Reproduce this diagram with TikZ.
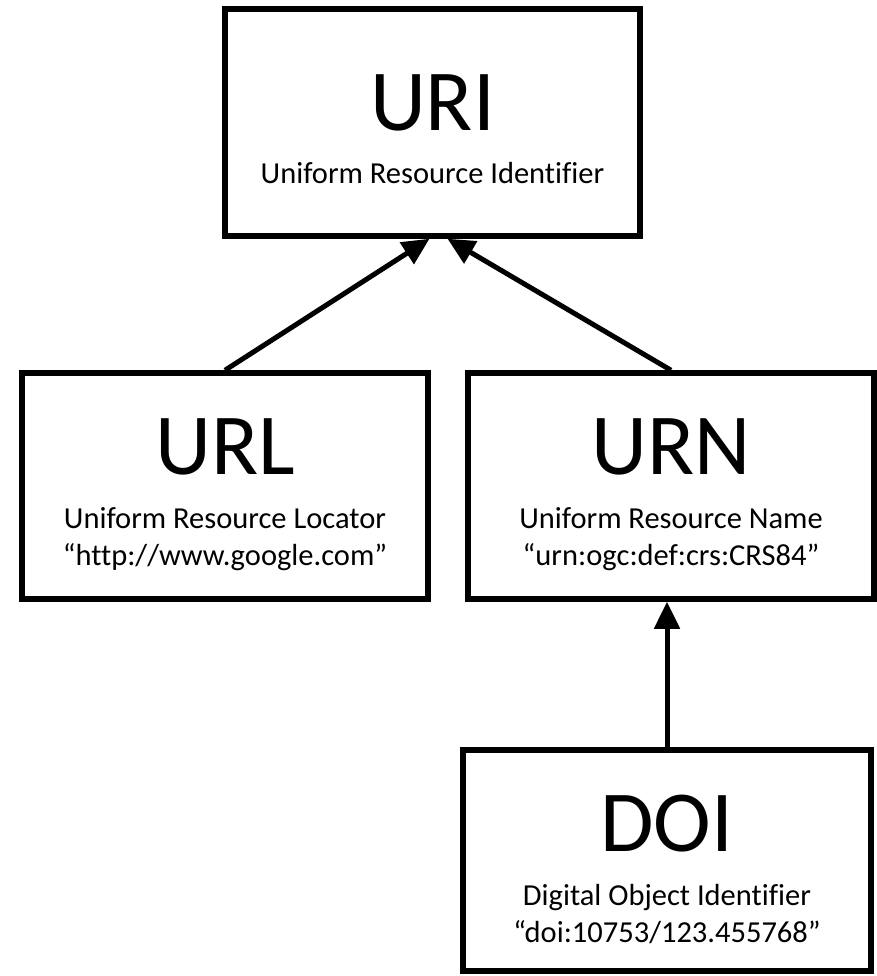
\documentclass[tikz,border=0pt]{standalone}
\usepackage{fontspec}
\setmainfont{Carlito}[Ligatures={NoCommon}]
\usetikzlibrary{arrows.meta}

\tikzset{
  box/.style={draw=black, line width=5.5pt, fill=white, rectangle, inner sep=0pt},
  title/.style={anchor=base, inner sep=0pt, font=\fontsize{87}{105}\selectfont},
  sub/.style={anchor=base, inner sep=0pt, font=\fontsize{30.5}{37}\selectfont},
  link/.style={line width=5pt, -{Triangle[length=27pt, width=25pt]}}
}

\begin{document}
\begin{tikzpicture}[x=1pt, y=-1pt]
  \useasboundingbox (0,0) rectangle (877,976);

  % boxes (centres in picture units, y downwards)
  \node[box, minimum width=415pt, minimum height=227pt] (uri) at (432.5,122.5) {};
  \node[box, minimum width=406pt, minimum height=226pt] (url) at (225,486) {};
  \node[box, minimum width=406pt, minimum height=226pt] (urn) at (671,486) {};
  \node[box, minimum width=408pt, minimum height=221pt] (doi) at (667,860.5) {};

  % labels of URI
  \node[title] (uriT) at ([yshift=-124.5pt]uri.north) {URI};
  \node[sub] (uriS) at ([yshift=-177pt]uri.north) {Uniform Resource Identifier};

  % labels of URL
  \node[title] (urlT) at ([yshift=-104pt]url.north) {URL};
  \node[sub] (urlS1) at ([yshift=-158pt]url.north) {Uniform Resource Locator};
  \node[sub] (urlS2) at ([yshift=-195pt]url.north) {“http://www.google.com”};

  % labels of URN
  \node[title] (urnT) at ([yshift=-104pt]urn.north) {URN};
  \node[sub] (urnS1) at ([yshift=-158pt]urn.north) {Uniform Resource Name};
  \node[sub] (urnS2) at ([yshift=-195pt]urn.north) {“urn:ogc:def:crs:CRS84”};

  % labels of DOI
  \node[title] (doiT) at ([yshift=-104pt]doi.north) {DOI};
  \node[sub] (doiS1) at ([yshift=-158pt]doi.north) {Digital Object Identifier};
  \node[sub] (doiS2) at ([yshift=-195pt]doi.north) {“doi:10753/123.455768”};

  % inheritance arrows
  \coordinate (uriL) at ([xshift=-3pt]uri.south);
  \coordinate (uriR) at ([xshift=15pt]uri.south);
  \draw[link] (url.north) -- (uriL);
  \draw[link] (urn.north) -- (uriR);
  \draw[link] (doi.north) -- (doi.north |- urn.south);
\end{tikzpicture}
\end{document}
